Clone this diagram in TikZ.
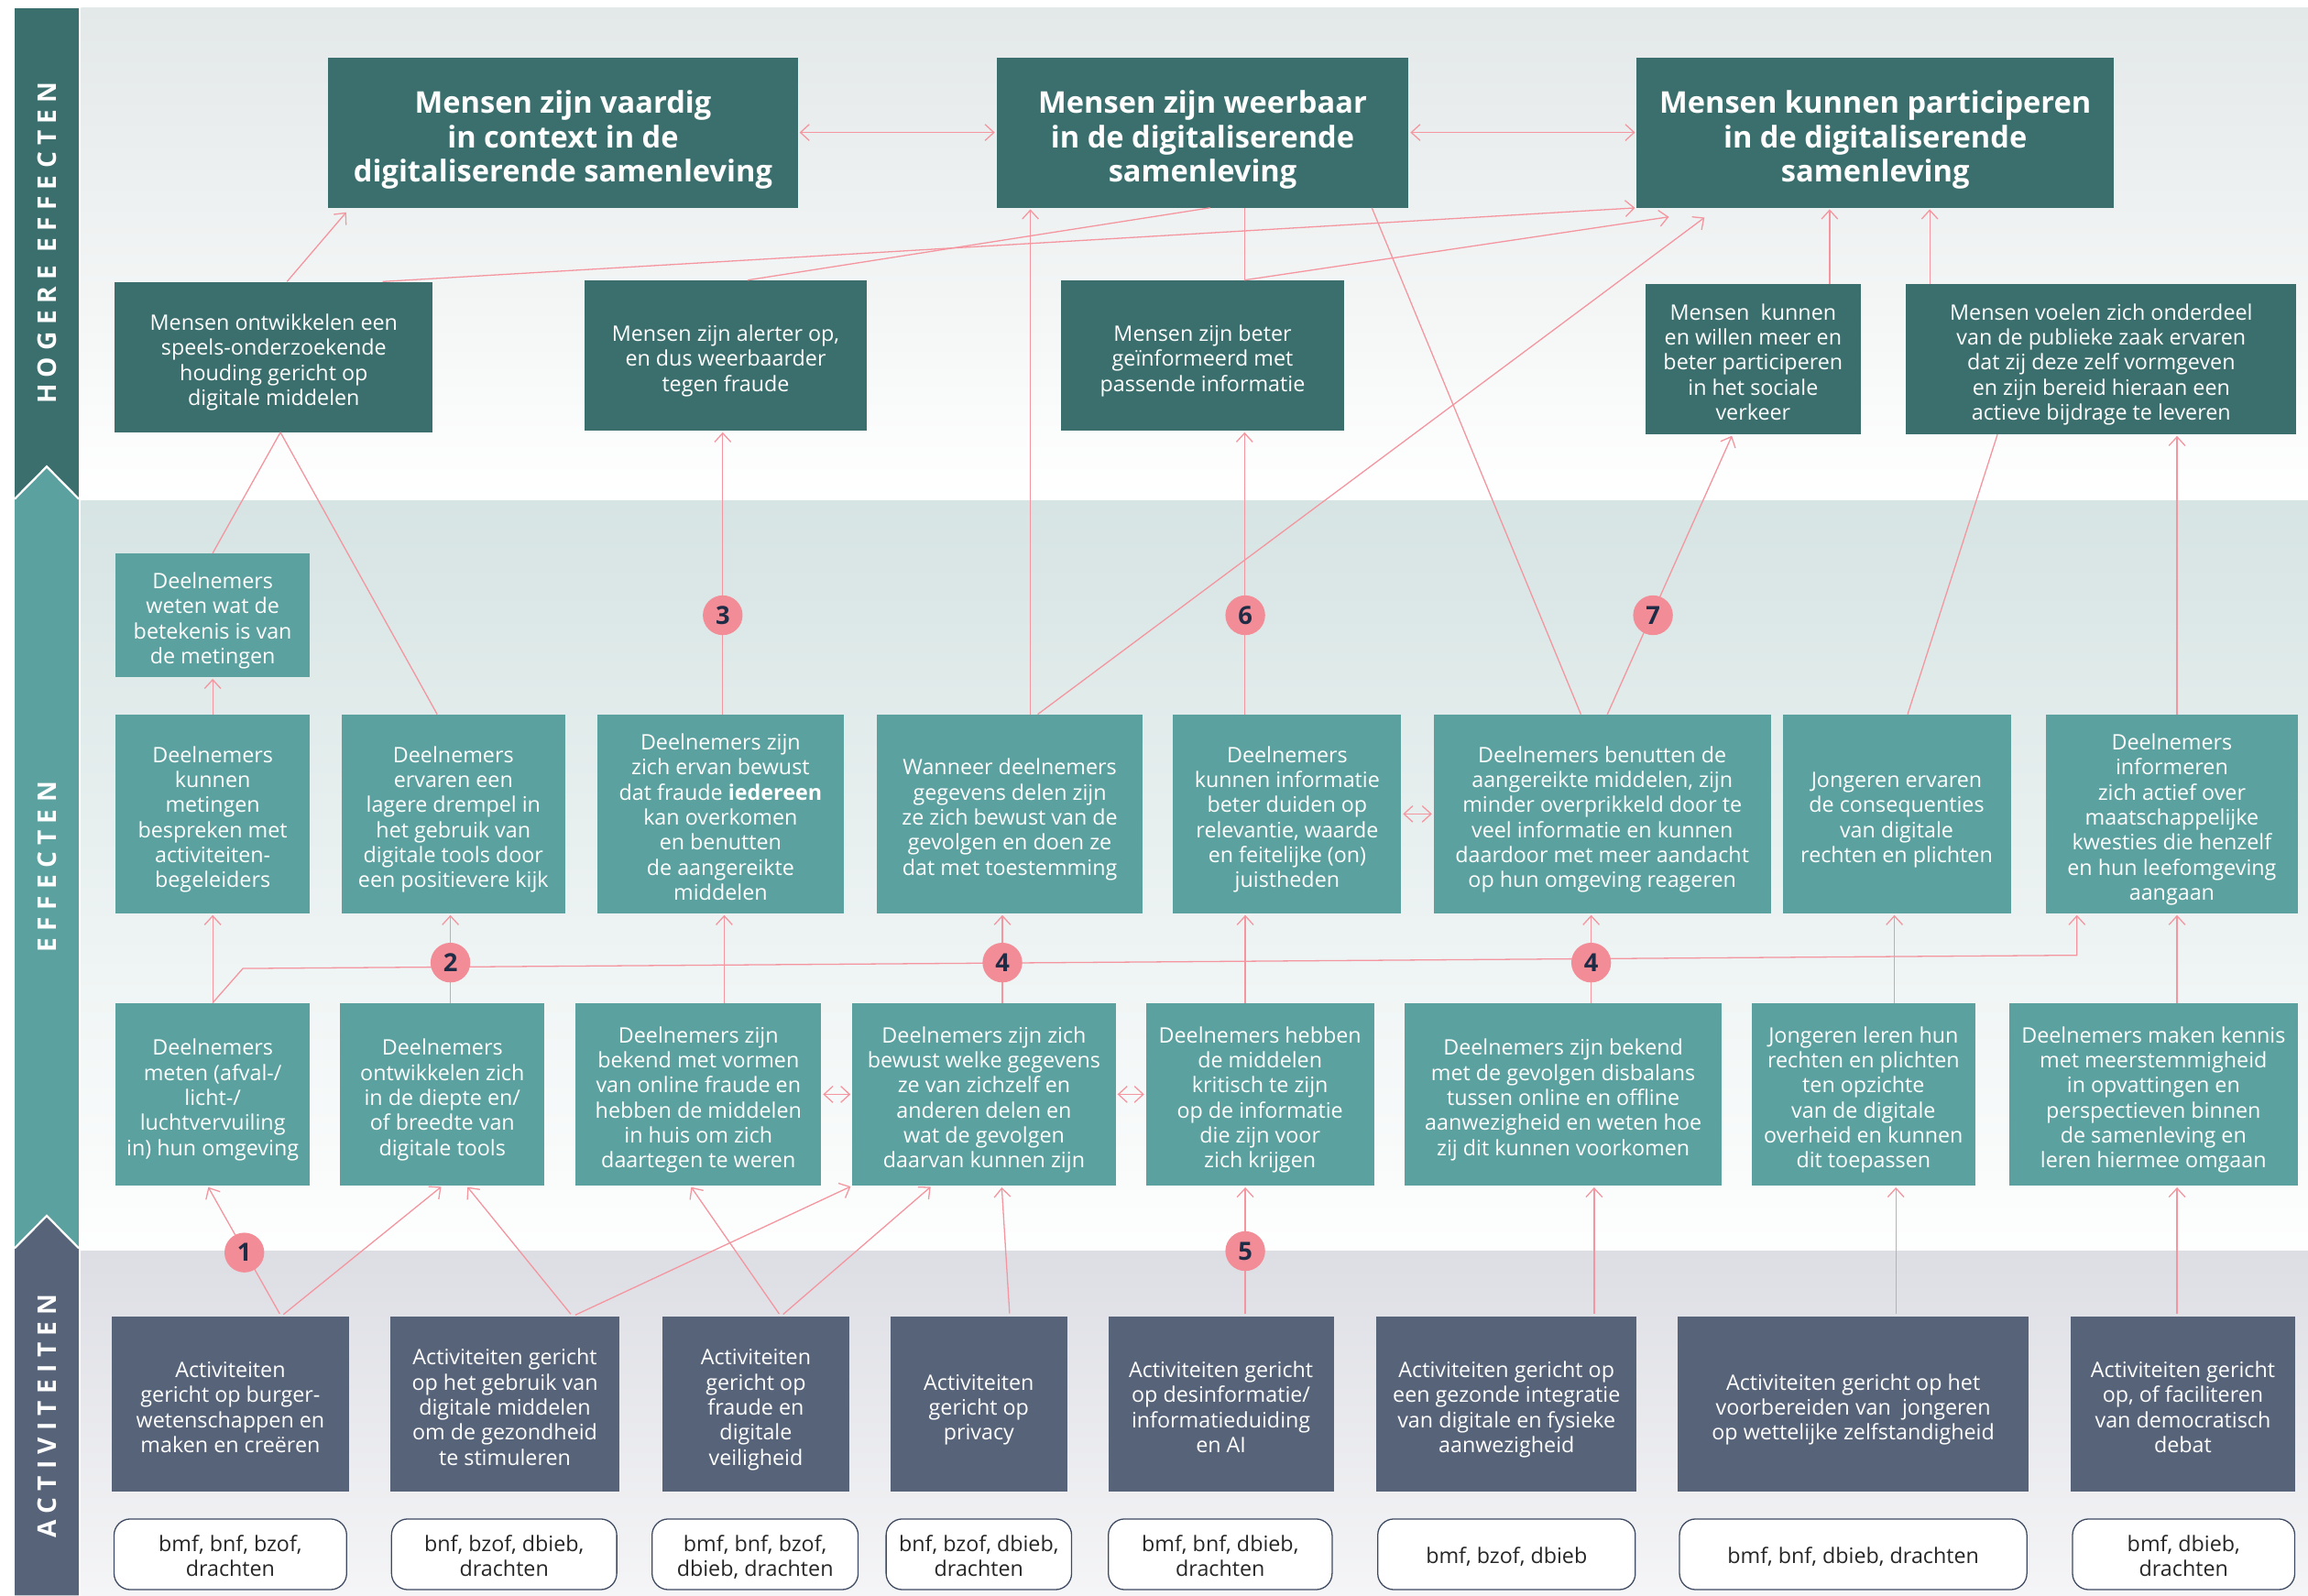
\documentclass[tikz,border=0pt]{standalone}
\usepackage{fontspec}
\setmainfont{Open Sans}
\newfontfamily\bandfont{Open Sans}[LetterSpace=26]
\usetikzlibrary{arrows.meta}

\definecolor{darkteal}{HTML}{3A6F6E}
\definecolor{effteal}{HTML}{5AA19F}
\definecolor{slate}{HTML}{566379}
\definecolor{linkpink}{HTML}{F4959F}
\definecolor{numpink}{HTML}{F28D98}
\definecolor{numink}{HTML}{1F2C45}
\definecolor{tagline}{HTML}{3E4A61}
\definecolor{bghigh}{HTML}{E3E8E8}
\definecolor{bgeff}{HTML}{D6E4E3}
\definecolor{bgact}{HTML}{DDDEE4}

\newcommand{\boxfont}{\fontsize{14.5}{17}\selectfont}
\newcommand{\goalfont}{\fontsize{20.3}{23.5}\selectfont\bfseries}
\newcommand{\numfont}{\fontsize{17}{17}\selectfont\bfseries}
% regels onder elkaar, eerste regel met vaste hoogte
\newcommand{\boxlines}[2][20pt]{\begin{tabular}{@{}c@{}}\rule{0pt}{#1}#2\end{tabular}}

\tikzset{
  goal/.style={fill=darkteal, text=white, font=\goalfont, inner sep=0pt, minimum height=102pt},
  outcome/.style={fill=darkteal, text=white, font=\boxfont, inner sep=0pt, minimum height=102pt},
  effect/.style={fill=effteal, text=white, font=\boxfont, inner sep=0pt, minimum height=135pt},
  effectlow/.style={effect, minimum height=124pt},
  activity/.style={fill=slate, text=white, font=\boxfont, inner sep=0pt, minimum height=119pt},
  tag/.style={draw=tagline, line width=0.8pt, fill=white, rounded corners=11pt, text=black!85, font=\boxfont, inner sep=0pt, minimum height=48pt},
  num/.style={circle, fill=numpink, text=numink, font=\numfont, minimum size=27pt, inner sep=0pt},
  bandlabel/.style={text=white, font=\bandfont\fontsize{17.5}{17.5}\selectfont\bfseries, rotate=90},
  plainlink/.style={draw=linkpink, line width=0.8pt},
  link/.style={plainlink, -{Straight Barb[length=6pt,width=11pt]}, shorten >=1pt},
  twolink/.style={plainlink, {Straight Barb[length=6pt,width=11pt]}-{Straight Barb[length=6pt,width=11pt]}, shorten >=1pt, shorten <=1pt}
}

\begin{document}
\begin{tikzpicture}[x=1pt,y=-1pt]
\useasboundingbox (0,0) rectangle (1568,1084);

% achtergrond per laag
\shade[top color=bghigh, bottom color=white] (55,5.6) rectangle (1568,340);
\shade[top color=bgeff, bottom color=white!97!bgeff] (55,340) rectangle (1568,850);
\shade[top color=bgact, bottom color=white!70!bgact] (55,850) rectangle (1568,1084);

% linker band
\fill[darkteal] (10,5.6) rectangle (53.5,340);
\fill[effteal] (10,850) -- (10,339) -- (31.75,317) -- (53.5,339) -- (53.5,850) -- cycle;
\fill[slate] (10,1084) -- (10,848) -- (31.75,826) -- (53.5,848) -- (53.5,1084) -- cycle;
\draw[white, line width=1.4pt] (10,339) -- (31.75,317) -- (53.5,339);
\draw[white, line width=1.4pt] (10,848) -- (31.75,826) -- (53.5,848);
\node[bandlabel] (lblhigh) at (31.75,165) {HOGERE EFFECTEN};
\node[bandlabel] (lbleff) at (31.75,589) {EFFECTEN};
\node[bandlabel] (lblact) at (31.75,962) {ACTIVITEITEN};

% hogere effecten
\node[goal, minimum width=319pt] (t1) at (382.5,90) {\boxlines[27.5pt]{Mensen zijn vaardig\\in context in de\\digitaliserende samenleving}};
\node[goal, minimum width=280pt] (t2) at (817,90) {\boxlines[27.5pt]{Mensen zijn weerbaar\\in de digitaliserende\\samenleving}};
\node[goal, minimum width=324pt] (t3) at (1274,90) {\boxlines[27.5pt]{Mensen kunnen participeren\\in de digitaliserende\\samenleving}};

\node[outcome, minimum width=216pt] (h1) at (186,242.5) {\boxlines{Mensen ontwikkelen een\\speels-onderzoekende\\houding gericht op\\digitale middelen}};
\node[outcome, minimum width=192pt] (h2) at (493,241.5) {\boxlines{Mensen zijn alerter op,\\en dus weerbaarder\\tegen fraude}};
\node[outcome, minimum width=192pt] (h3) at (817,241.5) {\boxlines{Mensen zijn beter\\geïnformeerd met\\passende informatie}};
\node[outcome, minimum width=146pt] (h4) at (1191,244) {\boxlines{Mensen~ kunnen\\en willen meer en\\beter participeren\\in het sociale\\verkeer}};
\node[outcome, minimum width=265pt] (h5) at (1427.5,244) {\boxlines{Mensen voelen zich onderdeel\\van de publieke zaak ervaren\\dat zij deze zelf vormgeven\\en zijn bereid hieraan een\\actieve bijdrage te leveren}};

% effecten
\node[effect, minimum width=132pt, minimum height=84pt] (e0) at (144.5,418) {\boxlines{Deelnemers\\weten wat de\\betekenis is van\\de metingen}};

\node[effect, minimum width=132pt] (e1a) at (144.5,553) {\boxlines{Deelnemers\\kunnen\\metingen\\bespreken met\\activiteiten-\\begeleiders}};
\node[effect, minimum width=152pt] (e1b) at (308,553) {\boxlines{Deelnemers\\ervaren een\\lagere drempel in\\het gebruik van\\digitale tools door\\een positievere kijk}};
\node[effect, minimum width=167pt] (e1c) at (489.5,553) {\boxlines{Deelnemers zijn\\zich ervan bewust\\dat fraude \textbf{iedereen}\\kan overkomen\\en benutten\\de aangereikte\\middelen}};
\node[effect, minimum width=180pt] (e1d) at (686,553) {\boxlines{Wanneer deelnemers\\gegevens delen zijn\\ze zich bewust van de\\gevolgen en doen ze\\dat met toestemming}};
\node[effect, minimum width=155pt] (e1e) at (874.5,553) {\boxlines{Deelnemers\\kunnen informatie\\beter duiden op\\relevantie, waarde\\en feitelijke (on)\\juistheden}};
\node[effect, minimum width=229pt] (e1f) at (1088.5,553) {\boxlines{Deelnemers benutten de\\aangereikte middelen, zijn\\minder overprikkeld door te\\veel informatie en kunnen\\daardoor met meer aandacht\\op hun omgeving reageren}};
\node[effect, minimum width=155pt] (e1g) at (1288.5,553) {\boxlines{Jongeren ervaren\\de consequenties\\van digitale\\rechten en plichten}};
\node[effect, minimum width=171pt] (e1h) at (1475.5,553) {\boxlines{Deelnemers\\informeren\\zich actief over\\maatschappelijke\\kwesties die henzelf\\en hun leefomgeving\\aangaan}};

\node[effectlow, minimum width=132pt] (e2a) at (144.5,743.5) {\boxlines{Deelnemers\\meten (afval-/\\licht-/\\luchtvervuiling\\in) hun omgeving}};
\node[effectlow, minimum width=139pt] (e2b) at (300.5,743.5) {\boxlines{Deelnemers\\ontwikkelen zich\\in de diepte en/\\of breedte van\\digitale tools}};
\node[effectlow, minimum width=167pt] (e2c) at (474.5,743.5) {\boxlines{Deelnemers zijn\\bekend met vormen\\van online fraude en\\hebben de middelen\\in huis om zich\\daartegen te weren}};
\node[effectlow, minimum width=179pt] (e2d) at (668.5,743.5) {\boxlines{Deelnemers zijn zich\\bewust welke gegevens\\ze van zichzelf en\\anderen delen en\\wat de gevolgen\\daarvan kunnen zijn}};
\node[effectlow, minimum width=155pt] (e2e) at (856,743.5) {\boxlines{Deelnemers hebben\\de middelen\\kritisch te zijn\\op de informatie\\die zijn voor\\zich krijgen}};
\node[effectlow, minimum width=215pt] (e2f) at (1062,743.5) {\boxlines{Deelnemers zijn bekend\\met de gevolgen disbalans\\tussen online en offline\\aanwezigheid en weten hoe\\zij dit kunnen voorkomen}};
\node[effectlow, minimum width=152pt] (e2g) at (1266,743.5) {\boxlines{Jongeren leren hun\\rechten en plichten\\ten opzichte\\van de digitale\\overheid en kunnen\\dit toepassen}};
\node[effectlow, minimum width=196pt] (e2h) at (1463,743.5) {\boxlines{Deelnemers maken kennis\\met meerstemmigheid\\in opvattingen en\\perspectieven binnen\\de samenleving en\\leren hiermee omgaan}};

% activiteiten
\node[activity, minimum width=161pt] (a1) at (156.5,954) {\boxlines{Activiteiten\\gericht op burger-\\wetenschappen en\\maken en creëren}};
\node[activity, minimum width=156pt] (a2) at (343,954) {\boxlines{Activiteiten gericht\\op het gebruik van\\digitale middelen\\om de gezondheid\\te stimuleren}};
\node[activity, minimum width=127pt] (a3) at (513.5,954) {\boxlines{Activiteiten\\gericht op\\fraude en\\digitale\\veiligheid}};
\node[activity, minimum width=120pt] (a4) at (665,954) {\boxlines{Activiteiten\\gericht op\\privacy}};
\node[activity, minimum width=153pt] (a5) at (829.5,954) {\boxlines{Activiteiten gericht\\op desinformatie/\\informatieduiding\\en AI}};
\node[activity, minimum width=177pt] (a6) at (1023.5,954) {\boxlines{Activiteiten gericht op\\een gezonde integratie\\van digitale en fysieke\\aanwezigheid}};
\node[activity, minimum width=238pt] (a7) at (1259,954) {\boxlines{Activiteiten gericht op het\\voorbereiden van~ jongeren\\op wettelijke zelfstandigheid}};
\node[activity, minimum width=152pt] (a8) at (1483,954) {\boxlines{Activiteiten gericht\\op, of faciliteren\\van democratisch\\debat}};

\node[tag, minimum width=158pt] (b1) at (156.5,1056) {\boxlines[18pt]{bmf, bnf, bzof,\\drachten}};
\node[tag, minimum width=153pt] (b2) at (342.5,1056) {\boxlines[18pt]{bnf, bzof, dbieb,\\drachten}};
\node[tag, minimum width=140pt] (b3) at (513,1056) {\boxlines[18pt]{bmf, bnf, bzof,\\dbieb, drachten}};
\node[tag, minimum width=126pt] (b4) at (665,1056) {\boxlines[18pt]{bnf, bzof, dbieb,\\drachten}};
\node[tag, minimum width=152pt] (b5) at (829,1056) {\boxlines[18pt]{bmf, bnf, dbieb,\\drachten}};
\node[tag, minimum width=175pt] (b6) at (1023.5,1056) {\boxlines[18pt]{bmf, bzof, dbieb}};
\node[tag, minimum width=236pt] (b7) at (1259,1056) {\boxlines[18pt]{bmf, bnf, dbieb, drachten}};
\node[tag, minimum width=151pt] (b8) at (1483.5,1056) {\boxlines[18pt]{bmf, dbieb,\\drachten}};

% verbindingen bovenin
\draw[twolink] (t1.east) -- (t2.west);
\draw[twolink] (t2.east) -- (t3.west);
\draw[link, shorten >=4pt] ([xshift=9pt]h1.north) -- ([xshift=15pt]t1.south west);
\draw[link] ([xshift=74pt]h1.north) -- (t3.south west);
\draw[plainlink] ([xshift=15pt]h2.north) -- ([xshift=5pt]t2.south);
\draw[plainlink] ([xshift=28.5pt]h3.north) -- ([xshift=28.5pt]t2.south);
\draw[link] ([xshift=28.5pt]h3.north) -- ([xshift=23pt,yshift=-6pt]t3.south west);
\draw[link] ([xshift=52pt]h4.north) -- ([xshift=-31pt]t3.south);
\draw[link] ([xshift=-116.5pt]h5.north) -- ([xshift=37pt]t3.south);
\draw[plainlink] ([xshift=-14.5pt]e1f.north) -- ([xshift=115pt]t2.south);
\draw[link] ([xshift=14pt]e1d.north) -- ([xshift=-117pt]t2.south);
\draw[link] ([xshift=19pt]e1d.north) -- ([xshift=47pt,yshift=-6pt]t3.south west);

% effecten naar hogere effecten
\draw[link] ([xshift=1.5pt]e1c.north) -- ([xshift=-2pt]h2.south);
\draw[link] ([xshift=-29pt]e1e.north) -- ([xshift=28.5pt]h3.south);
\draw[link] ([xshift=3.5pt]e1f.north) -- ([xshift=-14pt]h4.south);
\draw[plainlink] ([xshift=7.5pt]e1g.north) -- ([xshift=-70.5pt]h5.south);
\draw[link] ([xshift=3.5pt]e1h.north) -- ([xshift=51.5pt]h5.south);
\draw[plainlink] ([xshift=-11pt]e1b.north) -- ([xshift=4.5pt]h1.south);
\draw[plainlink] (e0.north) -- ([xshift=4.5pt]h1.south);
\draw[link] (e1a.north) -- (e0.south);

% tussen de effecten
\coordinate (bendl) at (165,658);
\coordinate (bendr) at (1411,649);
\draw[link] (e2a.north) -- (e1a.south);
\draw[link] (e2a.north) -- (bendl) -- (bendr) -- (bendr |- e1h.south);
\draw[link] ([xshift=5.5pt]e2b.north) -- ([xshift=-2pt]e1b.south);
\draw[link] ([xshift=17.5pt]e2c.north) -- ([xshift=2.5pt]e1c.south);
\draw[link] ([xshift=12.5pt]e2d.north) -- ([xshift=-5pt]e1d.south);
\draw[link] ([xshift=-10pt]e2e.north) -- ([xshift=-28.5pt]e1e.south);
\draw[link] ([xshift=19pt]e2f.north) -- ([xshift=-7.5pt]e1f.south);
\draw[link] ([xshift=21pt]e2g.north) -- ([xshift=-1.5pt]e1g.south);
\draw[link] ([xshift=16pt]e2h.north) -- ([xshift=3.5pt]e1h.south);
\draw[twolink] (e1e.east) -- (e1f.west);
\draw[twolink] (e2c.east) -- (e2d.west);
\draw[twolink] (e2d.east) -- (e2e.west);

% activiteiten naar effecten
\draw[link, shorten <=2pt] ([xshift=34.5pt]a1.north) -- ([xshift=-3.5pt]e2a.south);
\draw[link, shorten <=2pt] ([xshift=34.5pt]a1.north) -- (e2b.south);
\draw[link, shorten <=2pt] ([xshift=46pt]a2.north) -- ([xshift=16.5pt]e2b.south);
\draw[link, shorten <=2pt] ([xshift=46pt]a2.north) -- (e2d.south west);
\draw[link, shorten <=2pt] ([xshift=17pt]a3.north) -- ([xshift=-5.5pt]e2c.south);
\draw[link, shorten <=2pt] ([xshift=17pt]a3.north) -- ([xshift=-35.5pt]e2d.south);
\draw[link, shorten <=2pt] ([xshift=21pt]a4.north) -- ([xshift=12pt]e2d.south);
\draw[link, shorten <=2pt] ([xshift=16.5pt]a5.north) -- ([xshift=-10pt]e2e.south);
\draw[link, shorten <=2pt] ([xshift=59.5pt]a6.north) -- ([xshift=21pt]e2f.south);
\draw[link, shorten <=2pt] ([xshift=29pt]a7.north) -- ([xshift=22pt]e2g.south);
\draw[link, shorten <=2pt] ([xshift=-4pt]a8.north) -- ([xshift=16pt]e2h.south);

% nummers
\node[num] (n1) at (166,851) {1};
\node[num] (n2) at (306,654) {2};
\node[num] (n3) at (491,418) {3};
\node[num] (n4a) at (681,654) {4};
\node[num] (n4b) at (1081,654) {4};
\node[num] (n5) at (846,850) {5};
\node[num] (n6) at (846,418) {6};
\node[num] (n7) at (1123,418) {7};
\end{tikzpicture}
\end{document}
